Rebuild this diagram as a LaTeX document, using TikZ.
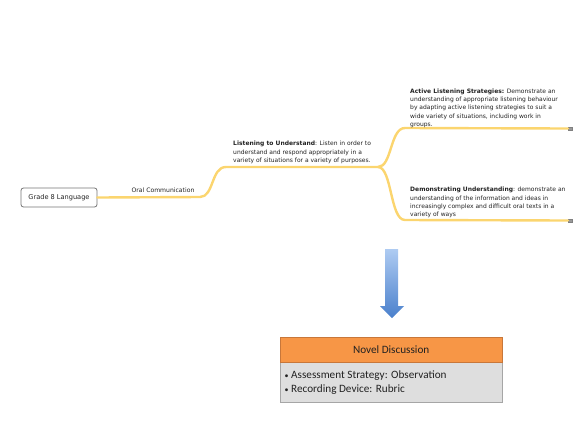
\documentclass[tikz,border=0pt]{standalone}
\usepackage{fontspec}
\setmainfont{DejaVu Sans}
\newfontfamily\calib{Carlito}
\definecolor{branchc}{HTML}{FBD56F}
\definecolor{orangef}{HTML}{F79646}
\definecolor{oranged}{HTML}{C8773A}
\definecolor{grayf}{HTML}{DEDEDE}
\definecolor{txt}{HTML}{222222}
\definecolor{arrtop}{HTML}{AECBF2}
\definecolor{arrbot}{HTML}{4A80CC}
\begin{document}
\begin{tikzpicture}[x=1pt,y=-1pt,
  branch/.style={draw=branchc,line width=2.4pt,line cap=round},
  topic/.style={inner sep=0pt,anchor=north west,align=left,font=\fontsize{6.0}{8.3}\selectfont,text=txt},
  rootbox/.style={draw=black!55,rounded corners=2.5pt,line width=0.8pt,minimum width=76pt,minimum height=19pt,inner sep=0pt,font=\fontsize{6.6}{8}\selectfont,text=txt},
  endmark/.style={fill=black!40,draw=black!50,line width=0.3pt,minimum width=4pt,minimum height=3pt,inner sep=0pt}]
\useasboundingbox (0,0) rectangle (587,440);
% mind map
\node[rootbox] (root) at (59,197.5) {Grade 8 Language};
\coordinate (oc) at (200,197);
\coordinate (b1) at (378,167);
\coordinate (l1) at (226,167);
\coordinate (u1) at (405,128);
\coordinate (d1) at (405,220);
\node[endmark] (e1) at (570,128.5) {};
\node[endmark] (e2) at (570,220.5) {};
\draw[branch] (root.east) -- (oc) .. controls (214,197) and (211,167) .. (l1) -- (b1);
\draw[branch] (b1) .. controls (392,167) and (390,128) .. (u1) -- (e1.west);
\draw[branch] (b1) .. controls (392,167) and (390,220) .. (d1) -- (e2.west);
\node[inner sep=0pt,font=\fontsize{6.1}{8}\selectfont,text=txt] (ocl) at (163,190.5) {Oral Communication};
\node[topic] (lis) at (233,141) {\textbf{Listening to Understand}: Listen in order to\\understand and respond appropriately in a\\variety of situations for a variety of purposes.};
\node[topic] (act) at (410,88.5) {\textbf{Active Listening Strategies:} Demonstrate an\\understanding of appropriate listening behaviour\\by adapting active listening strategies to suit a\\wide variety of situations, including work in\\groups.};
\node[topic] (dem) at (410,187) {\textbf{Demonstrating Understanding}: demonstrate an\\understanding of the information and ideas in\\increasingly complex and difficult oral texts in a\\variety of ways};
% arrow
\shade[top color=arrtop,bottom color=arrbot,shading angle=0] (385,249) -- (398,249) -- (398,306) -- (404,306) -- (392,318) -- (380,306) -- (385,306) -- cycle;
\coordinate (arrtip) at (392,318);
% box
\node[draw=black!35,fill=grayf,minimum width=222pt,minimum height=40pt,inner sep=0pt,anchor=north west] (body) at (280,362) {};
\node[draw=oranged,fill=orangef,minimum width=222pt,minimum height=24.5pt,inner sep=0pt,anchor=south west,font=\calib\fontsize{11.2}{13}\selectfont,text=txt] (head) at (280,362) {Novel Discussion};
\node[inner sep=0pt,anchor=north west,align=left,font=\calib\fontsize{11.2}{13.3}\selectfont,text=txt] (bul) at (284.5,371) {{\fontsize{8}{8}\selectfont\textbullet}\ Assessment Strategy: Observation\\{\fontsize{8}{8}\selectfont\textbullet}\ Recording Device: Rubric};
\end{tikzpicture}
\end{document}
